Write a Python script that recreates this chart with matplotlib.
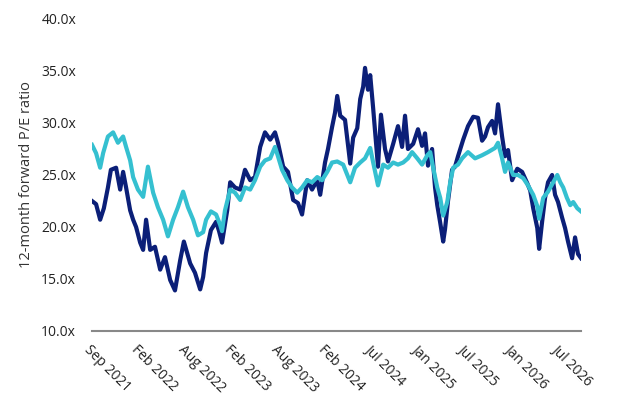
import matplotlib
matplotlib.use("Agg")
import matplotlib.pyplot as plt

plt.rcParams['font.family'] = ['Open Sans', 'DejaVu Sans']

# Trading-day index and values
navy_days = [0, 11, 22, 32, 43, 51, 65, 76, 84, 92, 103, 111, 119, 130, 138, 146, 157, 170, 184, 197,
             211, 224, 238, 248, 257, 265, 278, 292, 300, 308, 321, 335, 343, 351, 365, 373, 386, 400,
             413, 427, 440, 454, 467, 481, 494, 502, 516, 529, 543, 556, 567, 581, 594, 608, 616, 629,
             637, 648, 656, 662, 670, 683, 697, 705, 716, 724, 732, 737, 745, 751, 759, 767, 772, 780,
             791, 799, 813, 826, 837, 845, 853, 867, 880, 891, 899, 907, 918, 926, 932, 940, 948, 953,
             961, 972, 980, 988, 1002, 1015, 1029, 1042, 1053, 1061, 1069, 1080, 1088, 1096, 1107, 1115,
             1123, 1134, 1148, 1161, 1175, 1183, 1191, 1202, 1207, 1215, 1223, 1231, 1242, 1250, 1258,
             1269, 1277, 1285, 1296, 1304, 1312, 1320]
navy_pe = [22.5, 22.2, 20.7, 21.8, 23.8, 25.5, 25.7, 23.6, 25.3, 23.8, 21.6, 20.7, 20.0, 18.5, 17.8, 20.7,
           17.8, 18.1, 15.9, 17.1, 14.9, 13.9, 16.8, 18.6, 17.5, 16.5, 15.6, 14.0, 15.2, 17.5, 19.7, 20.5,
           19.6, 18.5, 21.6, 24.3, 23.8, 23.6, 25.5, 24.5, 24.8, 27.7, 29.1, 28.4, 29.1, 28.1, 25.8, 25.3,
           22.6, 22.3, 21.2, 24.5, 23.6, 24.5, 23.1, 26.2, 27.5, 29.6, 31.0, 32.6, 30.7, 30.3, 26.1, 28.6,
           29.5, 32.3, 33.5, 35.3, 33.2, 34.6, 31.4, 28.0, 25.8, 30.8, 27.5, 26.3, 28.0, 29.7, 27.7, 30.7,
           27.5, 28.0, 29.4, 27.8, 29.0, 25.9, 27.5, 23.8, 22.1, 20.4, 18.6, 19.8, 22.5, 25.5, 25.8, 26.8,
           28.4, 29.7, 30.6, 30.5, 28.3, 28.7, 29.6, 30.2, 29.0, 31.8, 28.7, 26.8, 27.4, 24.5, 25.6, 25.3,
           24.2, 23.5, 21.8, 19.9, 17.9, 20.5, 22.8, 24.3, 25.0, 23.1, 22.4, 20.9, 19.9, 18.6, 17.0, 19.0,
           17.4, 17.0]

teal_days = [0, 11, 22, 30, 43, 57, 70, 84, 92, 103, 111, 124, 138, 151, 165, 178, 192, 205, 219, 232,
             246, 259, 273, 286, 300, 308, 321, 335, 346, 351, 359, 373, 386, 400, 413, 427, 440, 454,
             467, 481, 494, 502, 513, 527, 540, 554, 567, 581, 594, 608, 621, 635, 648, 662, 678, 697,
             710, 724, 737, 751, 759, 772, 786, 799, 813, 826, 840, 853, 864, 878, 891, 905, 913, 921,
             932, 940, 948, 959, 967, 975, 988, 999, 1015, 1034, 1053, 1069, 1088, 1096, 1107, 1115,
             1123, 1137, 1150, 1164, 1177, 1191, 1202, 1207, 1218, 1231, 1245, 1256, 1264, 1272, 1282,
             1291, 1299, 1310, 1320]
teal_pe = [27.9, 27.1, 25.7, 27.1, 28.7, 29.1, 28.1, 28.7, 27.7, 26.4, 24.8, 23.6, 22.9, 25.8, 23.3, 21.9,
           20.7, 19.1, 20.7, 21.9, 23.4, 21.9, 20.7, 19.2, 19.5, 20.7, 21.5, 21.2, 20.2, 19.6, 21.6, 23.6,
           23.3, 22.6, 23.8, 23.6, 24.5, 25.8, 26.4, 26.6, 27.7, 26.8, 25.5, 24.5, 23.8, 23.3, 23.8, 24.5,
           24.3, 24.8, 24.5, 25.3, 26.2, 26.3, 26.0, 24.3, 25.7, 26.2, 26.6, 27.6, 26.2, 24.0, 26.0, 25.7,
           26.2, 26.0, 26.2, 26.6, 27.2, 26.6, 26.0, 26.9, 27.2, 25.7, 23.8, 22.8, 21.1, 22.4, 24.3, 25.7,
           26.0, 26.6, 27.2, 26.6, 26.9, 27.2, 27.6, 28.1, 26.6, 25.3, 26.2, 25.0, 25.0, 24.7, 24.0, 23.1,
           22.0, 20.8, 22.8, 23.4, 24.3, 25.0, 24.3, 23.8, 22.8, 22.1, 22.4, 21.8, 21.5]

tick_days = [0, 126, 252, 378, 504, 630, 756, 882, 1008, 1134, 1260]
tick_labels = ["Sep 2021", "Feb 2022", "Aug 2022", "Feb 2023", "Aug 2023", "Feb 2024",
               "Jul 2024", "Jan 2025", "Jul 2025", "Jan 2026", "Jul 2026"]
y_ticks = [10, 15, 20, 25, 30, 35, 40]

fig = plt.figure(figsize=(6.24, 4.01), dpi=100)
ax = fig.add_axes([92/624, 1 - 331/401, (581-92)/624, (331-19)/401])

ax.plot(navy_days, navy_pe, color='#0b1f78', lw=3.0, solid_joinstyle='round')
ax.plot(teal_days, teal_pe, color='#35c0d0', lw=3.0, solid_joinstyle='round')

ax.set_xlim(0, 1320)
ax.set_ylim(10, 40)
ax.set_yticks(y_ticks)
ax.set_yticklabels([f"{v:.1f}x" for v in y_ticks])
ax.set_xticks(tick_days)
ax.set_xticklabels(tick_labels, rotation=-45, ha='left', va='top', rotation_mode='anchor')
ax.tick_params(axis='both', length=0, labelsize=10, colors='#222222')
ax.tick_params(axis='y', pad=11.5)
ax.tick_params(axis='x', pad=8)
for s in ['top', 'right', 'left']:
    ax.spines[s].set_visible(False)
ax.spines['bottom'].set_color('#888888')
ax.spines['bottom'].set_linewidth(1.5)
ax.set_ylabel("12-month forward P/E ratio", fontsize=10.5, color='#333333', labelpad=5)

fig.savefig("out.png", dpi=100)
